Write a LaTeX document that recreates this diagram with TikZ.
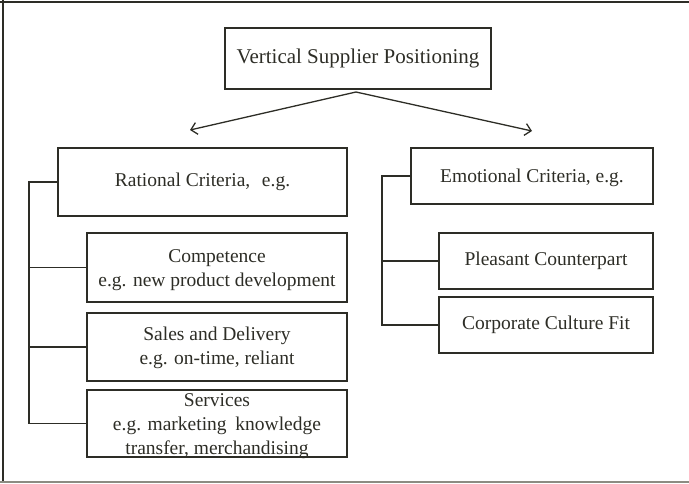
\documentclass[tikz,border=0pt]{standalone}
\usepackage{fontspec}
\setmainfont{Liberation Serif}
\usetikzlibrary{arrows.meta}
\definecolor{ink}{RGB}{45,45,38}
\definecolor{framegray}{RGB}{140,140,130}
\begin{document}
\begin{tikzpicture}[x=1pt,y=-1pt,
  box/.style={draw=ink, line width=1.6pt, text=ink, align=center, inner sep=0pt,
              font=\fontsize{19.5}{24}\selectfont},
  bus/.style={draw=ink, line width=1.5pt},
  arr/.style={draw=ink, line width=1.3pt, -{Straight Barb[length=6pt,width=12pt]}}
]
\useasboundingbox (0,0) rectangle (689,483);

% outer frame
\draw[ink, line width=2pt] (0,1.5) -- (689,1.5);
\draw[ink, line width=1.2pt] (3,0) -- (3,483);
\draw[framegray, line width=1.5pt] (0,482) -- (689,482);

% root
\node[box, minimum width=266pt, minimum height=61pt, font=\fontsize{21}{25}\selectfont]
  (top) at (358,58.5) {Vertical Supplier Positioning};

% rational branch
\node[box, minimum width=289pt, minimum height=68pt] (rat) at (202.5,182) {Rational Criteria,\hspace{0.6em}e.g.};
\node[box, minimum width=260pt, minimum height=69pt] (comp) at (217,267.5)
  {\raisebox{-2pt}[\height][\depth]{\begin{tabular}{@{}c@{}}Competence\\e.g. new product development\end{tabular}}};
\node[box, minimum width=260pt, minimum height=68pt] (sales) at (217,347)
  {\raisebox{-1pt}[\height][\depth]{\begin{tabular}{@{}c@{}}Sales and Delivery\\e.g. on-time, reliant\end{tabular}}};
\node[box, minimum width=260pt, minimum height=67pt] (serv) at (217,423.5)
  {\raisebox{-2.5pt}[\dimexpr\height-3pt\relax][\dimexpr\depth-3pt\relax]{\begin{tabular}{@{}c@{}}Services\\e.g. marketing\hspace{0.2em} knowledge\\transfer, merchandising\end{tabular}}};

% emotional branch
\node[box, minimum width=242pt, minimum height=56pt] (emo) at (532,176)
  {\raisebox{-2pt}[\height][\depth]{Emotional Criteria, e.g.}};
\node[box, minimum width=214pt, minimum height=56pt] (pleas) at (546,261) {Pleasant Counterpart};
\node[box, minimum width=214pt, minimum height=56pt] (corp) at (546,325) {Corporate Culture Fit};

% arrows from the root
\coordinate (apex) at (356,92);
\coordinate (ltip) at (190,130);
\coordinate (rtip) at (532,131);
\draw[arr] (apex) -- (ltip);
\draw[arr] (apex) -- (rtip);

% bus lines
\coordinate (lbus) at (29,0);
\coordinate (rbus) at (382,0);
\draw[bus] (rat.west) -- (rat.west -| lbus) |- (serv.west);
\draw[bus] (comp.west) -- (comp.west -| lbus);
\draw[bus] (sales.west) -- (sales.west -| lbus);
\draw[bus] (emo.west) -- (emo.west -| rbus) |- (corp.west);
\draw[bus] (pleas.west) -- (pleas.west -| rbus);
\end{tikzpicture}
\end{document}
